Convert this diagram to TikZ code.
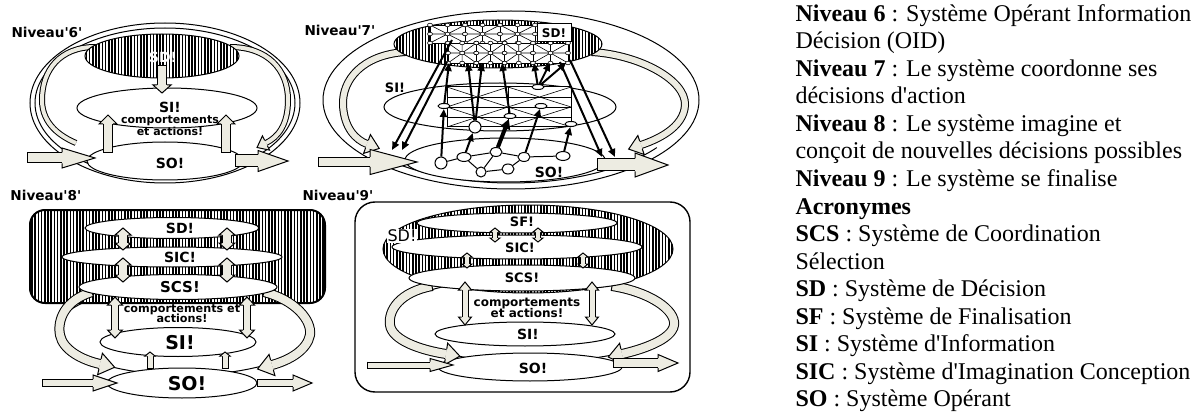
\documentclass[tikz,border=0pt]{standalone}
\usepackage{fontspec}
\setmainfont{Liberation Serif}
\newfontfamily\djv{DejaVu Sans}
\usetikzlibrary{patterns.meta,decorations.markings,arrows.meta,shapes.geometric}
\definecolor{afill}{RGB}{237,236,226}

\newcommand\bhd[3]{%
  \fill[afill] (0,-#2) -- (#3,0) -- (0,#2) -- cycle;
  \draw[line width=0.5pt, line join=miter] (0,-#1) -- (0,-#2) -- (#3,0) -- (0,#2) -- (0,#1);}

\newcommand\barr[4]{%
  \draw[line width={#1*1pt}] #4;
  \draw[afill, line width={#1*1pt-1pt}] #4;
  \path[decorate, decoration={markings,
    mark=at position 0 with {\draw[line width=0.5pt] (0,-#1) -- (0,#1);},
    mark=at position 1 with {\bhd{#1}{#2}{#3}}}] #4;}

\newcommand\dbarr[4]{%
  \draw[line width={#1*1pt}] #4;
  \draw[afill, line width={#1*1pt-1pt}] #4;
  \path[decorate, decoration={markings,
    mark=at position 0 with {\begin{scope}[xscale=-1]\bhd{#1}{#2}{#3}\end{scope}},
    mark=at position 1 with {\bhd{#1}{#2}{#3}}}] #4;}

\newcommand\netcell[4]{%
  \draw[fill=white, line width=0.4pt] (#1,#2) rectangle ({#1+#3},{#2+#4});
  \draw[line width=0.3pt] (#1,#2) -- ({#1+#3},{#2+#4}) (#1,{#2+#4}) -- ({#1+#3},#2)
    ({#1+#3/2},#2) -- ({#1+#3/2},{#2+#4}) (#1,{#2+#4/2}) -- ({#1+#3},{#2+#4/2});
  \foreach \u in {0,0.5,1} \foreach \v in {0,0.5,1}
    {\draw[fill=white, line width=0.3pt] ({#1+\u*#3},{#2+\v*#4}) ellipse [x radius=2.5, y radius=1.8];}}

\newcommand\sigrid[4]{%
  \draw[fill=white, line width=0.5pt] (#1,#2) rectangle ({#1+#3},{#2+#4});
  \foreach \k in {1,2,3} {\draw[line width=0.3pt] (#1,{#2+\k*#4/4}) -- ({#1+#3},{#2+\k*#4/4});}
  \draw[line width=0.3pt] (#1,#2) -- ({#1+#3},{#2+#4/2}) (#1,{#2+#4/2}) -- ({#1+#3},#2)
    (#1,{#2+#4/2}) -- ({#1+#3},{#2+#4}) (#1,{#2+#4}) -- ({#1+#3},{#2+#4/2});}

\tikzset{
  hatch/.style={pattern={Lines[angle=90,distance=1.6pt,line width=0.8pt]}},
  lbl/.style={font=\djv\bfseries\fontsize{#1}{#1}\selectfont, inner sep=0pt},
  nn/.style 2 args={draw, fill=white, ellipse, inner sep=0pt, minimum width=#1, minimum height=#2, line width=0.5pt},
  arr/.style={line width=1pt, -{Triangle[length=4pt,width=3.5pt]}},
  txt/.style={font=\fontsize{12}{13.75}\selectfont, anchor=base west, inner sep=0pt},
}

\begin{document}
\begin{tikzpicture}[x=0.5pt, y=-0.5pt, line width=0.5pt]
\useasboundingbox (0,0) rectangle (1200,417);

% ================= Panel 1 : Niveau 6 =================
\draw (165,103) ellipse [x radius=135, y radius=80];
\draw (165,103) ellipse [x radius=130, y radius=75];
\draw[fill=white] (165,161) ellipse [x radius=78, y radius=19];
\draw[fill=white] (167,108) ellipse [x radius=90, y radius=20];
\barr{3}{8}{10}{(95,47) .. controls (60,47) and (42,70) .. (42,100) .. controls (42,125) and (62,137) .. (76,143)}
\barr{3}{8}{10}{(230,47) .. controls (268,47) and (288,70) .. (288,100) .. controls (288,125) and (278,137) .. (266,143)}
\draw[hatch, preaction={fill=white}] (162,56) ellipse [x radius=77, y radius=22];
\node[lbl=7, text=white] (sd6) at (163,57) {SD!};
\barr{5}{9}{8}{(162,66) -- (162,85)}
\barr{5}{9}{9}{(108,153) -- (108,124)}
\barr{5}{9}{9}{(226,153) -- (226,124)}
\barr{5.5}{10}{33}{(27,158) -- (62,158)}
\barr{6.5}{10.5}{30}{(235,161) -- (258,161)}
\node[lbl=7] (si6) at (170,107) {SI!};
\node[lbl=5.5] (cp6) at (170,121) {comportements};
\node[lbl=5.5] (ea6) at (170,131) {et actions!};
\node[lbl=7] (so6) at (170,163) {SO!};
\node[lbl=6.8, anchor=west] (n6) at (11,32) {Niveau\textquotesingle 6\textquotesingle};

% ================= Panel 2 : Niveau 7 =================
\draw (511,100) ellipse [x radius=188, y radius=89];
\draw ([shift={(145:178 and 83)}]511,100) arc [start angle=145, end angle=35, x radius=178, y radius=83];
\draw[fill=white] (505,160) ellipse [x radius=100, y radius=22];
\draw[fill=white] (500,107) ellipse [x radius=116, y radius=24];
\barr{4}{10}{13}{(405,52) .. controls (362,55) and (342,80) .. (343,105) .. controls (344,128) and (356,140) .. (367,144)}
\barr{4}{10}{13}{(592,52) .. controls (640,55) and (686,80) .. (685,105) .. controls (684,128) and (656,140) .. (641,145)}
\draw[hatch, preaction={fill=white}] (498,44) ellipse [x radius=104, y radius=24];
\netcell{430}{25}{35}{18}
\netcell{465}{25}{35}{18}
\netcell{500}{25}{35}{18}
\netcell{448}{43}{28.3}{20}
\netcell{476.3}{43}{28.3}{20}
\netcell{504.6}{43}{28.3}{20}
\netcell{533}{43}{35}{20}
\node[draw, fill=white, lbl=6, minimum width=17pt, minimum height=9pt] (sd7) at (554,33) {SD!};
\sigrid{447}{87}{61}{40}
\sigrid{508}{87}{63}{40}
% SO network
\node[nn={6pt}{6pt}] (n1) at (441,163) {};
\node[nn={7pt}{4.5pt}] (n2) at (464,157) {};
\node[nn={6pt}{4.5pt}] (n3) at (496,152) {};
\node[nn={5pt}{5pt}] (n4) at (481,172) {};
\node[nn={6pt}{5pt}] (n5) at (508,169) {};
\node[nn={6pt}{4.5pt}] (n6) at (524,157) {};
\node[nn={7pt}{4.5pt}] (n7) at (563,156) {};
\draw (n1) -- (n2) (n2) -- (n3) (n2) -- (n4) (n3) -- (n4) (n3) -- (n6)
      (n4) -- (n5) (n5) -- (n6) (n6) -- (n7);
% SI nodes
\node[nn={6pt}{2.5pt}] (m1) at (444,106) {};
\node[nn={6pt}{2.5pt}] (m2) at (538,87) {};
\node[nn={6pt}{2.5pt}] (m3) at (541,106) {};
\node[nn={6pt}{2.5pt}] (m4) at (510,116) {};
\node[nn={6pt}{6pt}] (m5) at (475,127) {};
\node[nn={6pt}{2.5pt}] (m6) at (571,124) {};
% SD anchor points
\coordinate (s1) at (449,63);
\coordinate (s2) at (468,63);
\coordinate (s3) at (482,63);
\coordinate (s4) at (502,63);
\coordinate (s5) at (534,63);
\coordinate (s6) at (550,63);
\coordinate (s7) at (566,63);
\coordinate (t1) at (452,40);
\coordinate (t2) at (447,62);
\coordinate (t3) at (560,62);
\coordinate (t4) at (570,60);
\coordinate (e1) at (392,150);
\coordinate (e2) at (402,150);
\coordinate (e3) at (602,157);
\coordinate (e4) at (615,157);
\draw[arr] (n1) -- (m1);
\draw[arr] (n2) -- (m5);
\draw[arr, line width=2pt, -{Triangle[length=5pt,width=5pt]}] (n3) -- (m4);
\draw[arr] (n6) -- (m3);
\draw[arr] (n7) -- (m6);
\draw[arr] (m1) -- (s1);
\draw[arr] (m5) -- (s2);
\draw[arr] (m5) -- (s3);
\draw[arr] (m4) -- (s4);
\draw[arr] (m2) -- (s5);
\draw[arr] (m2) -- (s6);
\draw[arr] (m2) -- (s7);
\draw[arr] (t1) -- (e1);
\draw[arr] (t2) -- (e2);
\draw[arr] (t3) -- (e3);
\draw[arr] (t4) -- (e4);
\barr{5}{12.5}{47}{(318,162) -- (370,162)}
\barr{6.5}{12}{33}{(597,165) -- (635,165)}
\node[lbl=6.5] (si7) at (395,88) {SI!};
\node[lbl=7] (so7) at (549,172) {SO!};
\node[lbl=6.8, anchor=west] (n7l) at (304,30) {Niveau\textquotesingle 7\textquotesingle};

% ================= Panel 3 : Niveau 8 =================
\draw (185,330) ellipse [x radius=128, y radius=45];
\draw[fill=white] (182,383) ellipse [x radius=75, y radius=15];
\draw[fill=white] (178,342) ellipse [x radius=78, y radius=14.5];
\draw[hatch, preaction={fill=white}, rounded corners=7.5pt, line width=1pt] (30,210) rectangle (325,303);
\barr{5}{11}{15}{(92,292) .. controls (65,300) and (57,320) .. (60,335) .. controls (63,350) and (82,360) .. (100,364)}
\barr{5}{11}{15}{(264,292) .. controls (295,300) and (312,320) .. (310,335) .. controls (307,350) and (290,360) .. (272,365)}
\draw[fill=white] (172,228) ellipse [x radius=87, y radius=10.5];
\draw[fill=white] (172,257) ellipse [x radius=110, y radius=10];
\draw[fill=white] (178,287) ellipse [x radius=99, y radius=12.5];
\dbarr{5}{8}{7}{(123,235) -- (123,243)}
\dbarr{5}{8}{7}{(227,235) -- (227,243)}
\dbarr{5}{8}{7}{(123,265) -- (123,275)}
\dbarr{5}{8}{7}{(227,265) -- (227,275)}
\dbarr{4}{7.5}{8}{(115,305) -- (115,330)}
\dbarr{4}{7.5}{8}{(247,305) -- (247,330)}
\barr{3.5}{5}{4}{(150,368) -- (150,356)}
\barr{3.5}{5}{4}{(225,368) -- (225,356)}
\barr{4}{8}{24}{(42,383) -- (93,383)}
\barr{4}{8}{19}{(257,383) -- (293,383)}
\node[lbl=7] (sd8) at (180,228) {SD!};
\node[lbl=7] (sic8) at (180,257) {SIC!};
\node[lbl=7.5] (scs8) at (180,287) {SCS!};
\node[lbl=5.6] (cp8) at (182,310) {comportements et};
\node[lbl=5.6] (ea8) at (182,318.5) {actions!};
\node[lbl=9.5] (si8) at (180,343) {SI!};
\node[lbl=9.5] (so8) at (187,384) {SO!};
\node[lbl=6.8, anchor=west] (n8) at (10,195) {Niveau\textquotesingle 8\textquotesingle};

% ================= Panel 4 : Niveau 9 =================
\draw[rounded corners=10pt, line width=0.7pt] (355,202) rectangle (690,392);
\draw (532,320) ellipse [x radius=145, y radius=42];
\draw[fill=white] (530,367) ellipse [x radius=92, y radius=14];
\draw[fill=white] (525,334) ellipse [x radius=90, y radius=12];
\draw[hatch, preaction={fill=white}] (528,249) ellipse [x radius=145, y radius=44];
\barr{5}{11}{14}{(432,286) .. controls (400,292) and (388,310) .. (390,325) .. controls (392,340) and (420,350) .. (446,354)}
\barr{5}{11}{14}{(612,286) .. controls (650,292) and (676,310) .. (674,325) .. controls (672,340) and (640,350) .. (622,354)}
\draw[fill=white] (517,223) ellipse [x radius=100, y radius=10];
\draw[fill=white] (517,247) ellipse [x radius=125, y radius=12];
\draw[fill=white] (522,278) ellipse [x radius=113, y radius=13];
\dbarr{3}{5}{4}{(495,232) -- (495,238)}
\dbarr{3}{5}{4}{(538,232) -- (538,238)}
\dbarr{3}{5}{4}{(467,257) -- (467,264)}
\dbarr{3}{5}{4}{(583,257) -- (583,264)}
\dbarr{3.5}{6.5}{8}{(465,290) -- (465,317)}
\dbarr{3.5}{6.5}{8}{(592,290) -- (592,317)}
\barr{3.5}{6.5}{23}{(367,365) -- (430,365)}
\barr{5}{8.5}{20}{(613,363) -- (658,363)}
\node[fill=white, font=\djv\fontsize{8}{8}\selectfont, inner sep=0.5pt] (sd9) at (402,236) {SD!};
\node[lbl=6.5] (sf9) at (522,222) {SF!};
\node[lbl=6.5] (sic9) at (520,248) {SIC!};
\node[lbl=6.5] (scs9) at (522,278) {SCS!};
\node[lbl=6] (cp9) at (527,304) {comportements};
\node[lbl=6] (ea9) at (527,313) {et actions!};
\node[lbl=7] (si9) at (528,334) {SI!};
\node[lbl=7] (so9) at (533,368) {SO!};
\node[lbl=6.8, anchor=west] (n9) at (302,195) {Niveau\textquotesingle 9\textquotesingle};

% ================= Right text =================
\node[txt] (r0) at (795,21.5) {\textbf{Niveau 6} : Système Opérant Information};
\node[txt] (r1) at (795,49) {Décision (OID)};
\node[txt] (r2) at (795,76.5) {\textbf{Niveau 7} : Le système coordonne ses};
\node[txt] (r3) at (795,104) {décisions d\textquotesingle action};
\node[txt] (r4) at (795,131.5) {\textbf{Niveau 8} : Le système imagine et};
\node[txt] (r5) at (795,159) {conçoit de nouvelles décisions possibles};
\node[txt] (r6) at (795,186.5) {\textbf{Niveau 9} : Le système se finalise};
\node[txt] (r7) at (795,214) {\textbf{Acronymes}};
\node[txt] (r8) at (795,241.5) {\textbf{SCS} : Système de Coordination};
\node[txt] (r9) at (795,269) {Sélection};
\node[txt] (r10) at (795,296.5) {\textbf{SD} : Système de Décision};
\node[txt] (r11) at (795,324) {\textbf{SF} : Système de Finalisation};
\node[txt] (r12) at (795,351.5) {\textbf{SI} : Système d\textquotesingle Information};
\node[txt] (r13) at (795,379) {\textbf{SIC} : Système d\textquotesingle Imagination Conception};
\node[txt] (r14) at (795,406.5) {\textbf{SO} : Système Opérant};
\end{tikzpicture}
\end{document}
